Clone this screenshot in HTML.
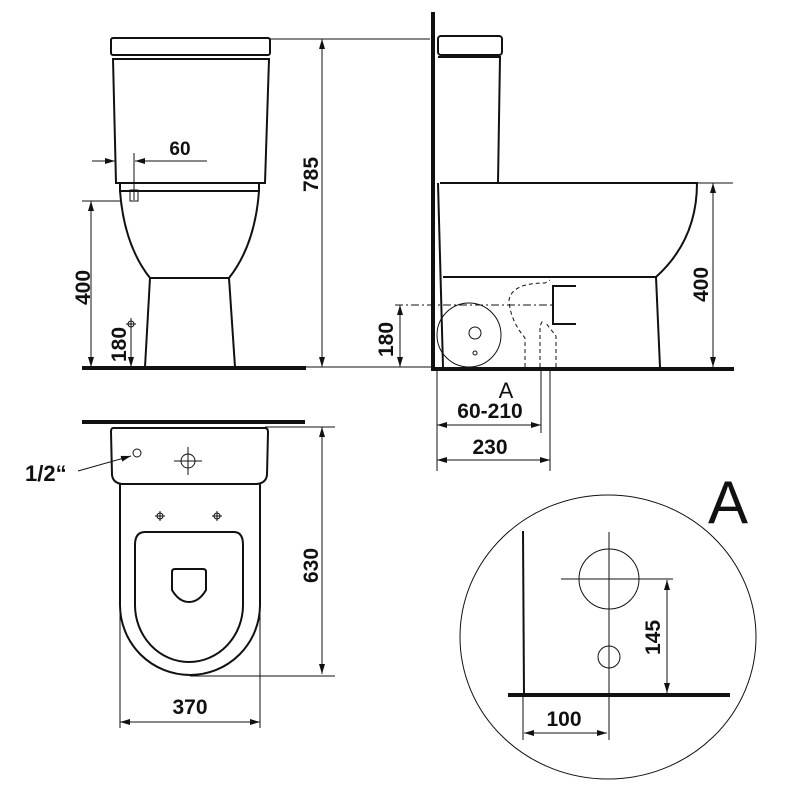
<!DOCTYPE html>
<html><head><meta charset="utf-8"><style>
html,body{margin:0;padding:0;background:#fff;}
svg{display:block;}
.t{font-family:"Liberation Sans",sans-serif;font-weight:bold;fill:#111;}
</style></head><body>
<svg width="800" height="800" viewBox="0 0 800 800" xmlns="http://www.w3.org/2000/svg">
<defs>
<marker id="ar" viewBox="0 0 10 6" refX="10" refY="3" markerWidth="10" markerHeight="6" orient="auto-start-reverse" markerUnits="userSpaceOnUse"><path d="M0,0 L10,3 L0,6 Z" fill="#111"/></marker>
</defs>
<g fill="none" stroke="#111" stroke-width="2">
<!-- FRONT VIEW -->
<rect x="111" y="38" width="159" height="17" rx="2"/>
<path d="M113,59 L269,59 L265,183 L116,183 Z"/>
<path d="M120,183 L259,183 L259,191 L120,191 Z"/>
<path d="M120,191 Q124,245 150,278 L229,278 Q255,245 259,191"/>
<path d="M150,278 L145,367 M229,278 L235,367"/>
</g>
<rect x="82" y="366" width="224" height="4" fill="#111"/>
<rect x="130" y="190" width="8" height="11" fill="none" stroke="#111" stroke-width="1"/>
<g stroke="#111" stroke-width="1" fill="none">
<line x1="270" y1="39" x2="430" y2="39"/>
<line x1="306" y1="367" x2="430" y2="367"/>
<line x1="322" y1="39" x2="322" y2="367" marker-start="url(#ar)" marker-end="url(#ar)"/>
<line x1="92" y1="161" x2="115" y2="161" marker-end="url(#ar)"/>
<line x1="146" y1="161" x2="207" y2="161"/>
<line x1="156" y1="161" x2="135" y2="161" marker-end="url(#ar)"/>
<line x1="134" y1="153" x2="134" y2="200"/>
<line x1="82" y1="201" x2="120" y2="201"/>
<line x1="91" y1="201" x2="91" y2="367" marker-start="url(#ar)" marker-end="url(#ar)"/>
<line x1="131" y1="330" x2="131" y2="367" marker-end="url(#ar)"/>
<circle cx="131" cy="324" r="3"/>
<line x1="126" y1="324" x2="136" y2="324"/><line x1="131" y1="318" x2="131" y2="330"/>
</g>
<text class="t" x="180" y="155" font-size="19" text-anchor="middle">60</text>
<text class="t" transform="translate(318,192) rotate(-90)" font-size="21">785</text>
<text class="t" transform="translate(90,305) rotate(-90)" font-size="21">400</text>
<text class="t" transform="translate(126,362) rotate(-90)" font-size="21">180</text>

<!-- SIDE VIEW -->
<rect x="431" y="12" width="4" height="359" fill="#111"/>
<rect x="431" y="367" width="303" height="4" fill="#111"/>
<g fill="none" stroke="#111" stroke-width="2">
<rect x="438" y="36" width="64" height="19" rx="3"/>
<path d="M438,57 L500,57 L498,183 L440,183"/>
<path d="M440,183 L697,183 Q697,240 656,277 L660,367"/>
<path d="M438,183 L443,367 M443,277 L656,277"/>
<path d="M576,286 L553,286 L553,324 L576,324"/>
</g>
<g fill="none" stroke="#111" stroke-width="1">
<path d="M525,367 L525,338 Q510,320 509,300 Q512,283 545,283 L550,280" stroke-dasharray="4,3"/>
<path d="M540,367 L540,326 L543,320 M556,367 L556,336 L545,322" stroke-dasharray="4,3"/>
<line x1="395" y1="305" x2="555" y2="305" stroke-dasharray="8,3,2,3"/>
<line x1="697" y1="183" x2="733" y2="183"/>
<line x1="713" y1="183" x2="713" y2="367" marker-start="url(#ar)" marker-end="url(#ar)"/>
<line x1="400" y1="305" x2="400" y2="367" marker-start="url(#ar)" marker-end="url(#ar)"/>
<line x1="395" y1="367" x2="431" y2="367"/>
<circle cx="469" cy="335" r="32"/>
<circle cx="475" cy="333" r="6"/>
<circle cx="475" cy="353" r="2"/>
<line x1="437" y1="371" x2="437" y2="471"/>
<line x1="541" y1="371" x2="541" y2="433"/>
<line x1="550" y1="371" x2="550" y2="471"/>
<line x1="437" y1="425" x2="541" y2="425" marker-start="url(#ar)" marker-end="url(#ar)"/>
<line x1="437" y1="460" x2="550" y2="460" marker-start="url(#ar)" marker-end="url(#ar)"/>
</g>
<text x="506" y="398" font-family="Liberation Sans,sans-serif" font-size="22" text-anchor="middle" fill="#111">A</text>
<text class="t" x="490" y="418" font-size="21" text-anchor="middle">60-210</text>
<text class="t" x="490" y="454" font-size="21" text-anchor="middle">230</text>
<text class="t" transform="translate(708,302) rotate(-90)" font-size="21">400</text>
<text class="t" transform="translate(393,357) rotate(-90)" font-size="21">180</text>

<!-- TOP VIEW -->
<rect x="82" y="420" width="223" height="4" fill="#111"/>
<g fill="none" stroke="#111" stroke-width="2">
<path d="M113,428 L265,428 Q268,428 268,432 L267,475 Q266,483 257,484 L122,484 Q113,483 112,475 L111,432 Q111,428 113,428 Z"/>
<path d="M120,484 L120,605 A70,70 0 0 0 260,605 L260,484"/>
<path d="M145,532 L234,532 Q243,532 243,545 L243,605 A54,57 0 0 1 135,605 L135,545 Q135,532 145,532 Z"/>
<path d="M175,569 L203,569 Q206,569 206,572 L206,590 Q199,602 189,602 Q179,602 172,590 L172,572 Q172,569 175,569 Z"/>
</g>
<g fill="none" stroke="#111" stroke-width="1">
<circle cx="137" cy="453" r="4"/>
<circle cx="188" cy="461" r="7"/>
<line x1="174" y1="461" x2="202" y2="461"/><line x1="188" y1="447" x2="188" y2="475"/>
<circle cx="160" cy="516" r="3"/><line x1="155" y1="516" x2="165" y2="516"/><line x1="160" y1="511" x2="160" y2="521"/>
<circle cx="217" cy="516" r="3"/><line x1="212" y1="516" x2="222" y2="516"/><line x1="217" y1="511" x2="217" y2="521"/>
<line x1="78" y1="471" x2="131" y2="456" marker-end="url(#ar)"/>
<line x1="265" y1="427" x2="335" y2="427"/>
<line x1="190" y1="676" x2="335" y2="676"/>
<line x1="322" y1="427" x2="322" y2="674" marker-start="url(#ar)" marker-end="url(#ar)"/>
<line x1="120" y1="605" x2="120" y2="728"/>
<line x1="260" y1="605" x2="260" y2="728"/>
<line x1="120" y1="722" x2="260" y2="722" marker-start="url(#ar)" marker-end="url(#ar)"/>
</g>
<text class="t" x="25" y="481" font-size="22">1/2“</text>
<text class="t" transform="translate(318,583) rotate(-90)" font-size="21">630</text>
<text class="t" x="190" y="714" font-size="21" text-anchor="middle">370</text>

<!-- DETAIL A -->
<text x="728" y="523" font-family="Liberation Sans,sans-serif" font-size="60" text-anchor="middle" fill="#111">A</text>
<g fill="none" stroke="#111" stroke-width="1">
<ellipse cx="608" cy="637" rx="148" ry="142"/>
<circle cx="609" cy="579" r="30"/>
<line x1="561" y1="579" x2="673" y2="579"/>
<line x1="609" y1="532" x2="609" y2="740"/>
<circle cx="609" cy="657" r="11"/>
<line x1="667" y1="580" x2="667" y2="693" marker-start="url(#ar)" marker-end="url(#ar)"/>
<line x1="523" y1="697" x2="523" y2="740"/>
<line x1="524" y1="733" x2="607" y2="733" marker-start="url(#ar)" marker-end="url(#ar)"/>
</g>
<line x1="523" y1="531" x2="524" y2="697" stroke="#111" stroke-width="2"/>
<rect x="508" y="693" width="222" height="4" fill="#111"/>
<text class="t" transform="translate(660,655) rotate(-90)" font-size="21">145</text>
<text class="t" x="564" y="726" font-size="21" text-anchor="middle">100</text>
</svg>
</body></html>
